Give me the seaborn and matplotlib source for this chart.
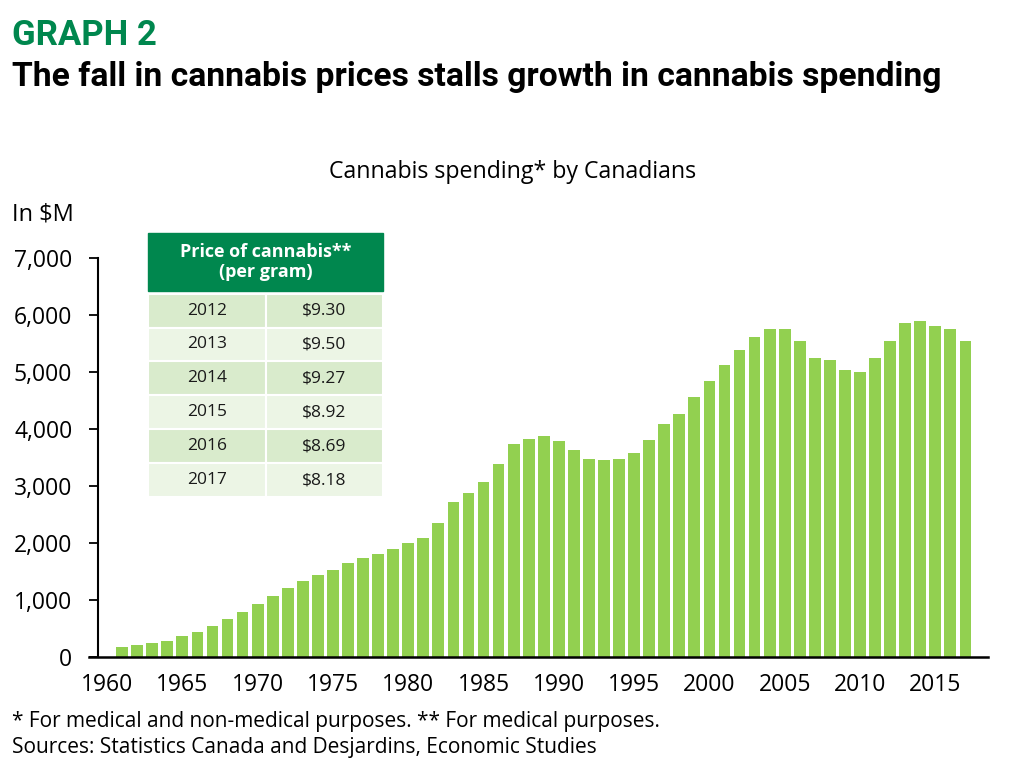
import numpy as np
import pandas as pd
import seaborn as sns
import matplotlib
matplotlib.use("Agg")
from matplotlib import pyplot as plt

# Cannabis spending by Canadians, in $M
years = list(range(1961, 2018))
spending = [175, 210, 245, 280, 363, 433, 550, 660, 795, 925,
            1075, 1205, 1328, 1433, 1525, 1643, 1737, 1813, 1900, 2000,
            2093, 2357, 2713, 2883, 3070, 3392, 3731, 3825, 3883, 3790,
            3637, 3468, 3450, 3468, 3579, 3807, 4088, 4258, 4561, 4842,
            5123, 5392, 5614, 5760, 5760, 5538, 5240, 5216, 5030, 4994,
            5240, 5538, 5860, 5900, 5801, 5749, 5538]

# Inset table: price of cannabis per gram
price_years = ["2012", "2013", "2014", "2015", "2016", "2017"]
price_values = ["$9.30", "$9.50", "$9.27", "$8.92", "$8.69", "$8.18"]

x_ticks = [1960, 1965, 1970, 1975, 1980, 1985, 1990, 1995, 2000, 2005, 2010, 2015]
y_ticks = [0, 1000, 2000, 3000, 4000, 5000, 6000, 7000]

bar_green = "#92D050"
dark_green = "#00874E"
row_dark = "#D9EBCC"
row_light = "#ECF5E5"

sns.set_style("white")
plt.rcParams['font.family'] = ['Open Sans', 'DejaVu Sans']

df = pd.DataFrame({"year": years, "spending": spending})

W, H = 1027, 772
fig = plt.figure(figsize=(W / 100, H / 100), dpi=100)
ax = fig.add_axes([98 / W, 1 - 657 / H, (988 - 98) / W, (657 - 258) / H])

sns.barplot(data=df, x="year", y="spending", native_scale=True, color=bar_green,
            saturation=1, width=0.78, edgecolor="none", ax=ax)

ax.set_xlim(1959.4, 2018.5)
ax.set_ylim(0, 7000)
ax.set_xticks(x_ticks)
ax.set_xticklabels([str(t) for t in x_ticks])
ax.set_yticks(y_ticks)
ax.set_yticklabels([f"{t:,}" for t in y_ticks])
ax.set_xlabel("")
ax.set_ylabel("")
for s in ["top", "right"]:
    ax.spines[s].set_visible(False)
ax.spines["left"].set_color("black")
ax.spines["bottom"].set_color("black")
ax.spines["left"].set_linewidth(1.5)
ax.spines["bottom"].set_linewidth(1.8)
ax.spines["bottom"].set_bounds(1958.8, 2018.5)
ax.tick_params(axis="y", which="both", left=True, length=6.5, width=1.3,
               color="black", pad=12, labelsize=16.5, labelcolor="black")
ax.tick_params(axis="x", bottom=False, pad=8, labelsize=16.5, labelcolor="black")

# Titles and notes
title_font = ["Roboto", "DejaVu Sans"]
fig.text(12 / W, 1 - 45 / H, "GRAPH 2", color=dark_green, fontsize=25,
         fontweight="bold", family=title_font)
fig.text(12 / W, 1 - 86 / H, "The fall in cannabis prices stalls growth in cannabis spending",
         color="black", fontsize=24.2, fontweight="bold", family=title_font)
fig.text(513 / W, 1 - 178 / H, "Cannabis spending* by Canadians", ha="center",
         fontsize=16.7, color="black")
fig.text(12 / W, 1 - 220 / H, "In $M", fontsize=17, color="black")
fig.text(12 / W, 1 - 727 / H,
         "* For medical and non-medical purposes. ** For medical purposes.",
         fontsize=15, color="black")
fig.text(12 / W, 1 - 753 / H,
         "Sources: Statistics Canada and Desjardins, Economic Studies",
         fontsize=15, color="black")

# Inset price table
tab_ax = fig.add_axes([148 / W, 1 - 497 / H, (383 - 148) / W, (497 - 233) / H])
tab_ax.axis("off")
head_frac = 58 / 264
tab_ax.add_patch(plt.Rectangle((0, 1 - head_frac), 1, head_frac, color=dark_green,
                               transform=tab_ax.transAxes, clip_on=False))
tab_ax.text(0.5, 1 - head_frac / 2, "Price of cannabis**\n(per gram)", ha="center",
            va="center", color="white", fontsize=13, fontweight="bold",
            linespacing=1.15, transform=tab_ax.transAxes)
rows = [[y, p] for y, p in zip(price_years, price_values)]
tbl = tab_ax.table(cellText=rows, cellLoc="center",
                   bbox=[0, 0, 1, 1 - head_frac - 0.01])
tbl.auto_set_font_size(False)
for (r, c), cell in tbl.get_celld().items():
    cell.set_facecolor(row_dark if r % 2 == 0 else row_light)
    cell.set_edgecolor("white")
    cell.set_linewidth(1.5)
    cell.get_text().set_fontsize(12.5)
    cell.get_text().set_color("#1a1a1a")

fig.savefig("out.png", dpi=100)
